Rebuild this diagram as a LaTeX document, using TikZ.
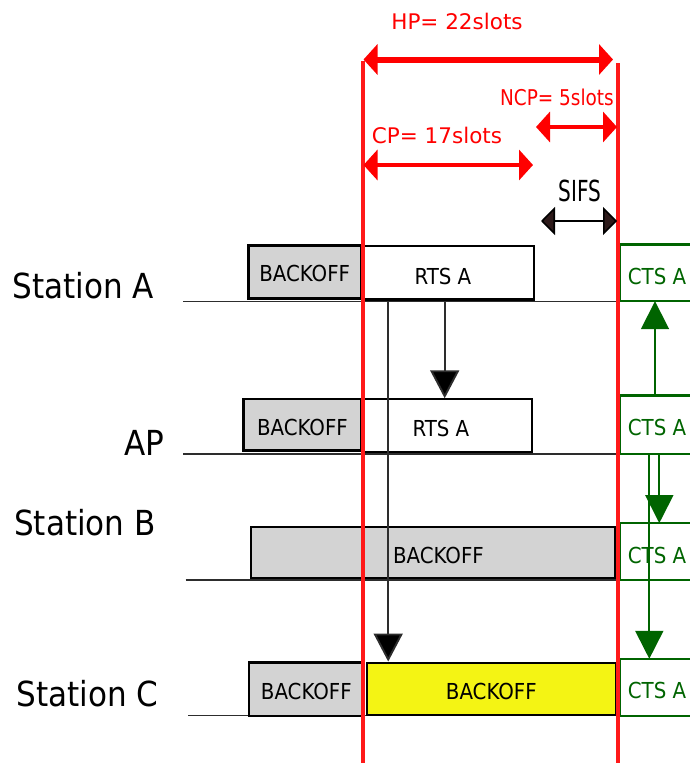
\documentclass[tikz,border=0pt]{standalone}
\usepackage{fontspec}
\setmainfont{DejaVu Sans Condensed}
\newfontfamily\regfont{DejaVu Sans}
\usetikzlibrary{arrows.meta}
\definecolor{ctsgreen}{RGB}{0,100,0}
\definecolor{slotgray}{RGB}{211,211,211}
\definecolor{busyyellow}{RGB}{244,244,20}
\definecolor{sifshead}{RGB}{45,26,26}
\definecolor{axisgray}{RGB}{45,45,45}
\definecolor{periodred}{RGB}{255,25,25}
\begin{document}
\begin{tikzpicture}[x=1pt,y=-1pt,
  station/.style={inner sep=0pt, font=\fontsize{34.5}{40}\selectfont},
  slotbox/.style={draw=black, inner sep=0pt, text height=22pt, font=\fontsize{22}{26}\selectfont},
  backoffbox/.style={slotbox, fill=slotgray, line width=2.8pt},
  rtsbox/.style={slotbox, fill=white, line width=2.2pt},
  ctsbox/.style={inner sep=0pt, text height=23pt, minimum width=74pt, text=ctsgreen, font=\fontsize{22}{26}\selectfont},
  ctsline/.style={draw=ctsgreen, line width=2.3pt},
  baseline/.style={draw=axisgray, line width=1.2pt},
  period/.style={draw=periodred, line width=3.2pt},
  span/.style={draw=red, {Triangle[length=14pt,width=30pt]}-{Triangle[length=14pt,width=30pt]}},
  spanlabel/.style={text=red, inner sep=0pt},
  sendarrow/.style={draw=axisgray, line width=1.9pt, -{Triangle[length=28pt,width=29pt,fill=black]}},
  ctsarrow/.style={draw=ctsgreen, line width=1.8pt, -{Triangle[length=28pt,width=28pt,fill=ctsgreen]}},
]
\useasboundingbox (0,0) rectangle (690,763);

% station names
\node[station] (lblA) at (83.5,286) {Station A};
\node[station] (lblAP) at (144,443) {AP};
\node[station] (lblB) at (85,523) {Station B};
\node[station] (lblC) at (87.5,694) {Station C};

% time axes of the stations
\coordinate (axA) at (183,301.7);
\coordinate (axAP) at (183,454);
\coordinate (axB) at (185.7,580);
\coordinate (axC) at (188.3,715.7);
\coordinate (edgeR) at (618,0);
\draw[baseline] (axA) -- (axA -| edgeR);
\draw[baseline] (axAP) -- (axAP -| edgeR);
\draw[baseline] (axB) -- (axB -| edgeR);
\draw[baseline] (axC) -- (axC -| edgeR);

% Station A
\node[backoffbox, text height=20pt, minimum width=113pt, minimum height=53pt] (boA) at (304.7,272) {BACKOFF};
\node[rtsbox, text height=24pt, minimum width=170pt, minimum height=53.5pt] (rtsA) at (449,272.8) {RTS A\hspace*{12pt}};
% AP
\node[backoffbox, minimum width=117.5pt, minimum height=51.5pt] (boAP) at (302.5,424.7) {BACKOFF};
\node[rtsbox, minimum width=167.5pt, minimum height=52.7pt] (rtsAP) at (447.9,425.7) {RTS A\hspace*{14pt}};
% Station B
\node[backoffbox, line width=2.4pt, minimum width=363.6pt, minimum height=51pt] (boB) at (433,552.7) {\hspace*{11pt}BACKOFF};
% Station C
\node[backoffbox, text height=21pt, minimum width=114.5pt, minimum height=53.5pt] (boC) at (306.3,689.2) {BACKOFF};
\node[rtsbox, text height=21pt, fill=busyyellow, minimum width=248.7pt, minimum height=52.3pt] (navC) at (491.3,688.8) {BACKOFF};

% CTS frames, open to the right
\node[ctsbox, minimum height=56.3pt] (ctsA) at (657,272.85) {CTS A};
\node[ctsbox, text height=22pt, minimum height=58.3pt] (ctsAP) at (657,424.85) {CTS A};
\node[ctsbox, minimum height=56.7pt] (ctsB) at (657,551.65) {CTS A};
\node[ctsbox, minimum height=57pt] (ctsC) at (657,687.5) {CTS A};
\foreach \f in {ctsA,ctsAP,ctsB,ctsC}
  \draw[ctsline] (\f.north east) -- (\f.north west) -- (\f.south west) -- (\f.south east);

% RTS from Station A
\coordinate (rtsDrop) at ([xshift=-4.3pt]rtsA.south);
\draw[sendarrow] (rtsDrop) -- (rtsDrop |- rtsAP.north);
\coordinate (navDrop) at ([xshift=25.3pt]rtsA.south west);
\draw[sendarrow] (navDrop) -- (navDrop |- navC.north);

% CTS from the AP
\coordinate (ctsUp) at ([xshift=-2pt]ctsAP.north);
\draw[ctsarrow] (ctsUp) -- (ctsUp |- ctsA.south);
\coordinate (ctsDownB) at ([xshift=2.3pt]ctsAP.south);
\draw[ctsarrow] (ctsDownB) -- (ctsDownB |- ctsB.north);
\coordinate (ctsDownC) at ([xshift=-7.7pt]ctsAP.south);
\draw[ctsarrow] (ctsDownC) -- (ctsDownC |- ctsC.north);

% period boundaries
\coordinate (hpTop) at (363,61);
\coordinate (hpBot) at (363,763);
\coordinate (ncpTop) at (618,63);
\coordinate (ncpBot) at (618,763);
\draw[period] (hpTop) -- (hpBot);
\draw[period] (ncpTop) -- (ncpBot);

% period spans
\coordinate (hpL) at (363.5,59.5);
\coordinate (hpR) at (613,59.5);
\draw[span, line width=6pt] (hpL) -- (hpR);
\node[spanlabel, font=\regfont\fontsize{21.5}{26}\selectfont] (hpText) at (457,21) {HP= 22slots};

\coordinate (ncpL) at (536,127);
\coordinate (ncpR) at (617,127);
\draw[span, line width=4.5pt] (ncpL) -- (ncpR);
\node[spanlabel, font=\fontsize{20.5}{24}\selectfont] (ncpText) at (557,97) {\scalebox{1}[1.06]{NCP= 5slots}};

\coordinate (cpL) at (363.5,165);
\coordinate (cpR) at (533,165);
\draw[span, line width=4.5pt] (cpL) -- (cpR);
\node[spanlabel, font=\regfont\fontsize{21.5}{26}\selectfont] (cpText) at (437,135) {CP= 17slots};

% SIFS gap
\coordinate (sifsL) at (541,221);
\coordinate (sifsR) at (617,221);
\draw[line width=1.6pt, {Triangle[length=14pt,width=28pt,fill=sifshead]}-{Triangle[length=14pt,width=28pt,fill=sifshead]}] (sifsL) -- (sifsR);
\node[inner sep=0pt, font=\fontsize{22.3}{26}\selectfont] (sifsText) at (580,191) {\scalebox{1}[1.3]{SIFS}};
\end{tikzpicture}
\end{document}
